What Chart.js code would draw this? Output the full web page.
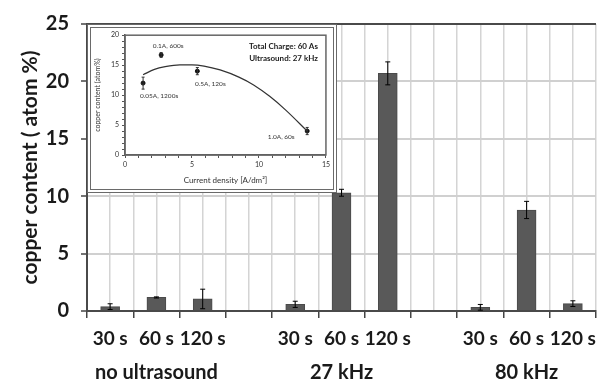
<!DOCTYPE html>
<html>
<head>
<meta charset="utf-8">
<script src="https://cdn.jsdelivr.net/npm/chart.js@4.4.1/dist/chart.umd.min.js"></script>
<style>
  body { margin: 0; background: #fff; }
  #wrap { position: relative; width: 605px; height: 383px; }
  #inset {
    position: absolute; left: 87px; top: 24px; width: 250px; height: 169px;
    box-sizing: border-box; border: 4px double #6a6a6a; background: #fff;
  }
  canvas { display: block; }
</style>
</head>
<body>
<div id="wrap">
  <canvas id="mainChart" width="605" height="383"></canvas>
  <div id="inset"><canvas id="insetChart" width="242" height="161"></canvas></div>
</div>
<script>
// ---- main bar chart data ----
const catLabels = ['30 s', '60 s', '120 s', '', '30 s', '60 s', '120 s', '', '30 s', '60 s', '120 s'];
const groupLabels = ['', 'no ultrasound', '', '', '', '27 kHz', '', '', '', '80 kHz', ''];
const barPos = [0, 1, 2, 4, 5, 6, 8, 9, 10];
const copperVals = [0.38, 1.18, 1.05, 0.58, 10.3, 20.7, 0.32, 8.8, 0.64];
const copperErr = [0.25, 0.05, 0.85, 0.27, 0.3, 1.0, 0.25, 0.75, 0.25];
const yTicks = [0, 5, 10, 15, 20, 25];

// ---- inset data ----
const densityPts = [1.35, 2.7, 5.4, 13.6];
const contentPts = [12.0, 16.7, 14.0, 4.0];
const contentErr = [1.0, 0.4, 0.6, 0.6];
const pointLabels = ['0.05A, 1200s', '0.1A, 600s', '0.5A, 120s', '1.0A, 60s'];
const fitX = [1.35, 2.2, 3.0, 4.1, 5.0, 5.9, 7.1, 8.5, 9.6, 10.8, 12.0, 13.6];
const fitY = [13.4, 14.3, 14.75, 15.05, 15.05, 14.85, 14.2, 13.0, 11.7, 9.8, 7.5, 4.0];
const insetNotes = ['Total Charge: 60 As', 'Ultrasound: 27 kHz'];

// label offsets (px) for the inset point labels
const labelOffsets = [[16, 13], [7, -9], [13, 13], [-26, 6]];

const FONT = 'Lato, "Open Sans", sans-serif';

// error bars drawn from dataset.errorBars
function makeErrorBarPlugin(capWidth, color) {
    return {
        id: 'errorBars',
        afterDatasetsDraw(chart) {
            const ctx = chart.ctx;
            chart.data.datasets.forEach((ds, di) => {
                if (!ds.errorBars) {
                    return;
                }
                const meta = chart.getDatasetMeta(di);
                const yScale = chart.scales[meta.yAxisID];
                ctx.save();
                ctx.strokeStyle = color;
                ctx.lineWidth = 1;
                meta.data.forEach((el, i) => {
                    const v = ds.data[i].y;
                    const e = ds.errorBars[i];
                    const top = yScale.getPixelForValue(v + e);
                    const bot = yScale.getPixelForValue(v - e);
                    ctx.beginPath();
                    ctx.moveTo(el.x, top);
                    ctx.lineTo(el.x, bot);
                    ctx.moveTo(el.x - capWidth, top);
                    ctx.lineTo(el.x + capWidth, top);
                    ctx.moveTo(el.x - capWidth, bot);
                    ctx.lineTo(el.x + capWidth, bot);
                    ctx.stroke();
                });
                ctx.restore();
            });
        }
    };
}

// frame around the inset plot area plus text annotations
const insetDecor = {
    id: 'insetDecor',
    afterDatasetsDraw(chart) {
        const ctx = chart.ctx;
        const a = chart.chartArea;
        ctx.save();
        ctx.strokeStyle = '#666';
        ctx.lineWidth = 1.5;
        ctx.strokeRect(a.left, a.top, a.right - a.left, a.bottom - a.top);

        const xs = chart.scales.x;
        const ys = chart.scales.y;
        ctx.fillStyle = '#333';
        ctx.textAlign = 'center';
        ctx.textBaseline = 'middle';
        ctx.font = '6.5px ' + FONT;
        pointLabels.forEach((txt, i) => {
            const px = xs.getPixelForValue(densityPts[i]) + labelOffsets[i][0];
            const py = ys.getPixelForValue(contentPts[i]) + labelOffsets[i][1];
            ctx.fillText(txt, px, py);
        });

        ctx.textAlign = 'right';
        ctx.font = 'bold 8px ' + FONT;
        ctx.fillStyle = '#222';
        insetNotes.forEach((txt, i) => {
            ctx.fillText(txt, a.right - 8, a.top + 11 + i * 12);
        });
        ctx.restore();
    }
};

const insetChart = new Chart(document.getElementById('insetChart'), {
    type: 'scatter',
    data: {
        datasets: [{
            type: 'line',
            data: fitX.map((x, i) => ({ x: x, y: fitY[i] })),
            borderColor: '#333',
            borderWidth: 1.2,
            pointRadius: 0,
            cubicInterpolationMode: 'monotone',
            fill: false
        }, {
            data: densityPts.map((x, i) => ({ x: x, y: contentPts[i] })),
            backgroundColor: '#111',
            borderColor: '#111',
            pointRadius: 2,
            errorBars: contentErr
        }]
    },
    options: {
        responsive: false,
        animation: false,
        devicePixelRatio: 1,
        layout: { padding: { top: 3, right: 4, left: 0, bottom: 0 } },
        plugins: { legend: { display: false }, tooltip: { enabled: false } },
        scales: {
            x: {
                type: 'linear',
                min: 0,
                max: 15,
                afterBuildTicks: (s) => {
                    const t = [];
                    for (let k = 0; k <= 15; k++) {
                        t.push({ value: k });
                    }
                    s.ticks = t;
                },
                afterFit: (s) => { s.height = 34; },
                grid: { color: 'rgba(0,0,0,0)', tickLength: 3, tickColor: '#555' },
                border: { color: '#555', width: 1.5 },
                ticks: {
                    autoSkip: false,
                    maxRotation: 0,
                    padding: 3,
                    color: '#333',
                    font: { family: FONT, size: 7 },
                    callback: (v) => (v % 5 === 0 ? String(v) : '')
                },
                title: {
                    display: true,
                    text: 'Current density [A/dm²]',
                    color: '#333',
                    padding: { top: 0, bottom: 4 },
                    font: { family: FONT, size: 8 }
                }
            },
            y: {
                min: 0,
                max: 20,
                afterBuildTicks: (s) => {
                    const t = [];
                    for (let k = 0; k <= 20; k++) {
                        t.push({ value: k });
                    }
                    s.ticks = t;
                },
                afterFit: (s) => { s.width = 34; },
                grid: { color: 'rgba(0,0,0,0)', tickLength: 3, tickColor: '#555' },
                border: { color: '#555', width: 1.5 },
                ticks: {
                    autoSkip: false,
                    padding: 3,
                    color: '#333',
                    font: { family: FONT, size: 7 },
                    callback: (v) => (v % 5 === 0 ? String(v) : '')
                },
                title: {
                    display: true,
                    text: 'copper content (atom%)',
                    color: '#333',
                    padding: { top: 3, bottom: 0 },
                    font: { family: FONT, size: 7 }
                }
            }
        }
    },
    plugins: [makeErrorBarPlugin(1.5, '#333'), insetDecor]
});

const mainChart = new Chart(document.getElementById('mainChart'), {
    type: 'bar',
    data: {
        datasets: [{
            data: barPos.map((p, i) => ({ x: p, y: copperVals[i] })),
            backgroundColor: '#595959',
            borderColor: '#4a4a4a',
            borderWidth: 1,
            barThickness: 19,
            errorBars: copperErr
        }]
    },
    options: {
        responsive: false,
        animation: false,
        devicePixelRatio: 1,
        layout: { padding: { top: 24, right: 0, left: 0, bottom: 0 } },
        plugins: { legend: { display: false }, tooltip: { enabled: false } },
        scales: {
            x: {
                type: 'linear',
                position: 'bottom',
                min: -0.5,
                max: 10.5,
                offset: false,
                afterBuildTicks: (s) => {
                    const t = [];
                    for (let k = 0; k <= 22; k++) {
                        t.push({ value: -0.5 + k * 0.5 });
                    }
                    s.ticks = t;
                },
                afterFit: (s) => { s.height = 45; },
                grid: {
                    offset: false,
                    color: '#d4d4d4',
                    lineWidth: 1.5,
                    tickLength: 7,
                    tickColor: (c) => (c.tick && Math.abs(c.tick.value % 1) === 0.5 ? '#444' : 'rgba(0,0,0,0)'),
                    tickWidth: 1.5
                },
                border: { color: '#4a4a4a', width: 2 },
                ticks: {
                    autoSkip: false,
                    maxRotation: 0,
                    padding: 9,
                    color: '#1a1a1a',
                    font: { family: FONT, size: 19, weight: 'bold' },
                    callback: (v) => (Number.isInteger(v) ? catLabels[v] : '')
                }
            },
            x2: {
                type: 'category',
                labels: groupLabels,
                position: 'bottom',
                offset: true,
                afterFit: (s) => { s.height = 27; },
                grid: { display: false, drawTicks: false },
                border: { display: false },
                ticks: {
                    autoSkip: false,
                    maxRotation: 0,
                    padding: 5,
                    color: '#1a1a1a',
                    font: { family: FONT, size: 20, weight: 'bold' }
                }
            },
            y: {
                min: 0,
                max: 25,
                afterBuildTicks: (s) => { s.ticks = yTicks.map((v) => ({ value: v })); },
                afterFit: (s) => { s.width = 87; },
                grid: {
                    color: (c) => (c.tick && c.tick.value === 25 ? '#4a4a4a' : '#d0d0d0'),
                    lineWidth: 2,
                    tickLength: 6,
                    tickColor: '#444',
                    tickWidth: 1.5
                },
                border: { color: '#4a4a4a', width: 2 },
                ticks: {
                    padding: 12,
                    color: '#1a1a1a',
                    font: { family: FONT, size: 20, weight: 'bold' }
                },
                title: {
                    display: true,
                    text: 'copper content ( atom %)',
                    color: '#1a1a1a',
                    padding: { top: 18, bottom: 0 },
                    font: { family: FONT, size: 21, weight: 'bold' }
                }
            }
        }
    },
    plugins: [makeErrorBarPlugin(2.5, '#000')]
});
</script>
</body>
</html>
